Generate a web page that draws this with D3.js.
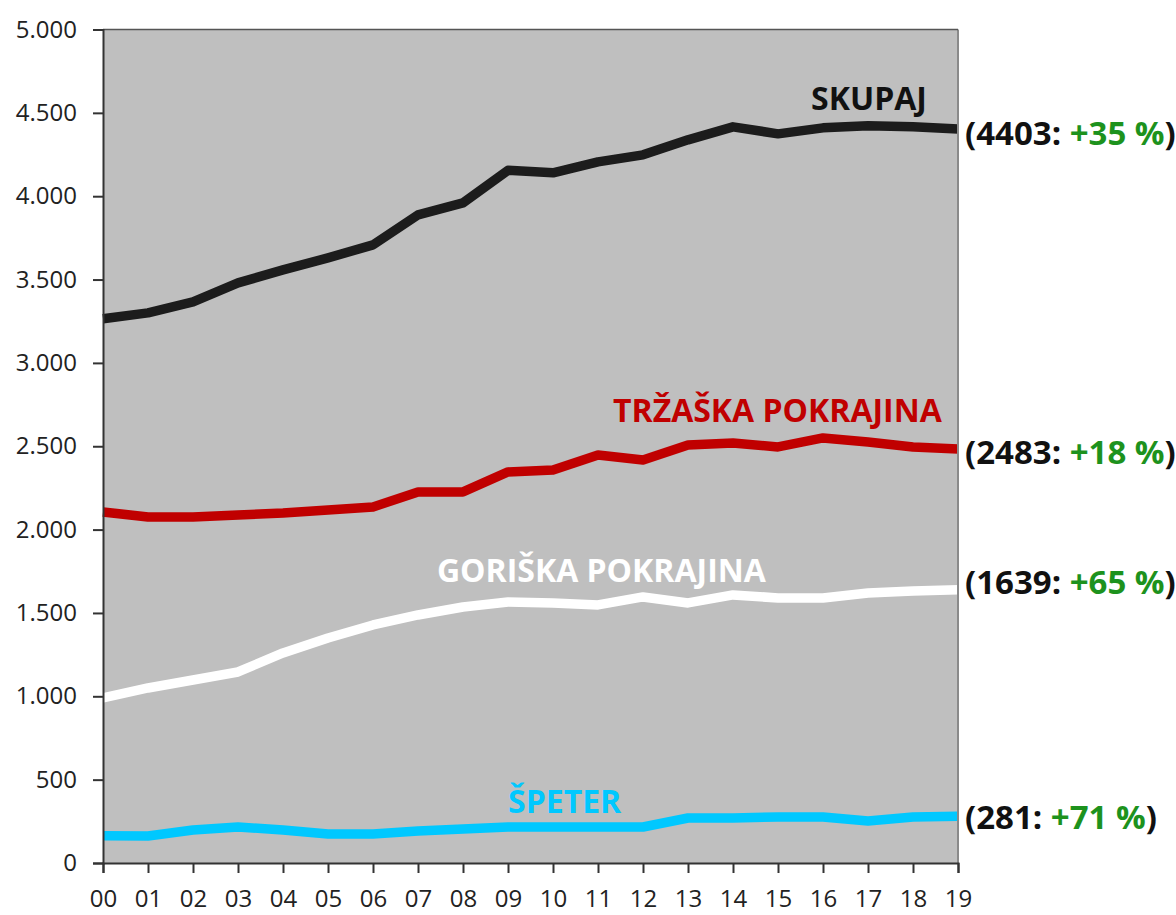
<!DOCTYPE html>
<html>
<head>
<meta charset="utf-8">
<script src="https://cdn.jsdelivr.net/npm/d3@7"></script>
<style>
  body { margin: 0; background: #fff; }
  svg { display: block; font-family: "Open Sans", "DejaVu Sans", sans-serif; }
</style>
</head>
<body>
<svg id="chart" width="1176" height="915"></svg>
<script>
// data
const years = ["00", "01", "02", "03", "04", "05", "06", "07", "08", "09",
               "10", "11", "12", "13", "14", "15", "16", "17", "18", "19"];
const skupaj  = [3265, 3300, 3366, 3480, 3558, 3630, 3708, 3888, 3960, 4155,
                 4140, 4206, 4248, 4338, 4416, 4374, 4410, 4422, 4416, 4403];
const trzaska = [2106, 2076, 2076, 2088, 2100, 2118, 2136, 2226, 2226, 2346,
                 2358, 2448, 2418, 2508, 2520, 2496, 2550, 2526, 2496, 2483];
const goriska = [990, 1050, 1098, 1146, 1260, 1350, 1428, 1488, 1536, 1566,
                 1560, 1548, 1596, 1560, 1608, 1590, 1590, 1620, 1632, 1639];
const speter  = [164, 162, 198, 216, 198, 174, 174, 192, 204, 216,
                 216, 216, 216, 270, 270, 276, 276, 252, 276, 281];
const seriesNames = ["SKUPAJ", "TRŽAŠKA POKRAJINA", "GORIŠKA POKRAJINA", "ŠPETER"];
const changes = ["+35 %", "+18 %", "+65 %", "+71 %"];
const yTicks = [0, 500, 1000, 1500, 2000, 2500, 3000, 3500, 4000, 4500, 5000];

const svg = d3.select("#chart");
const plotL = 103, plotR = 958, plotT = 29.5, plotB = 863;

const x = d3.scaleLinear().domain([0, years.length - 1]).range([plotL, plotR]);
const y = d3.scaleLinear().domain([0, 5000]).range([plotB, plotT]);

const fmt = d3.formatLocale({ decimal: ",", thousands: ".", grouping: [3], currency: ["", ""] }).format(",d");

// plot background
svg.append("rect")
  .attr("x", plotL).attr("y", plotT)
  .attr("width", plotR - plotL).attr("height", plotB - plotT)
  .attr("fill", "#bfbfbf");

// series styles + label placement (index / value space)
const series = [
  { name: seriesNames[0], values: skupaj,  color: "#1c1c1c", text: "#111", lx: 18.31, lv: 4518, anchor: "end", dy: "0.48em" },
  { name: seriesNames[1], values: trzaska, color: "#c00000", text: "#c00000", lx: 18.64, lv: 2646, anchor: "end", dy: "0.46em" },
  { name: seriesNames[2], values: goriska, color: "#ffffff", text: "#ffffff", lx: 7.42, lv: 1686, anchor: "start", dy: "0.14em" },
  { name: seriesNames[3], values: speter,  color: "#00c8ff", text: "#00c8ff", lx: 9.0, lv: 300, anchor: "start", dy: "0.4em" }
];
series.forEach((s, i) => s.change = changes[i]);

const line = d3.line()
  .x((d, i) => x(i))
  .y(d => y(d));

svg.append("g").selectAll("path")
  .data(series)
  .enter().append("path")
  .attr("d", d => line(d.values))
  .attr("fill", "none")
  .attr("stroke", d => d.color)
  .attr("stroke-width", 9.5)
  .attr("stroke-linejoin", "round");

// series names inside the plot
svg.append("g").selectAll("text")
  .data(series)
  .enter().append("text")
  .attr("x", d => x(d.lx))
  .attr("y", d => y(d.lv))
  .attr("text-anchor", d => d.anchor)
  .attr("font-size", 32)
  .attr("font-weight", "bold")
  .attr("fill", d => d.text)
  .text(d => d.name);

// end labels: (value: change)
const endLabel = svg.append("g").selectAll("text")
  .data(series)
  .enter().append("text")
  .attr("x", plotR + 7)
  .attr("y", d => y(d.values[d.values.length - 1]))
  .attr("dy", d => d.dy)
  .attr("font-size", 33)
  .attr("font-weight", "bold")
  .attr("fill", "#111");
endLabel.append("tspan").text(d => "(" + d.values[d.values.length - 1] + ": ");
endLabel.append("tspan").attr("fill", "#1d921d").text(d => d.change);
endLabel.append("tspan").text(")");

// right + top border
svg.append("line")
  .attr("x1", plotR).attr("x2", plotR).attr("y1", plotT).attr("y2", plotB)
  .attr("stroke", "#8a8a8a").attr("stroke-width", 2);
svg.append("line")
  .attr("x1", plotL).attr("x2", plotR).attr("y1", plotT).attr("y2", plotT)
  .attr("stroke", "#555").attr("stroke-width", 1.5);

// y axis
const yAxis = svg.append("g")
  .attr("transform", `translate(${plotL},0)`)
  .call(d3.axisLeft(y).tickValues(yTicks).tickFormat(fmt).tickSize(10).tickPadding(16));
yAxis.select(".domain").attr("stroke", "#333").attr("stroke-width", 2);
yAxis.selectAll(".tick line").attr("stroke", "#333").attr("stroke-width", 2);
yAxis.selectAll(".tick text")
  .attr("font-family", "Open Sans, sans-serif")
  .attr("font-size", 24)
  .attr("fill", "#222");

// x axis
const xAxis = svg.append("g")
  .attr("transform", `translate(0,${plotB})`)
  .call(d3.axisBottom(x).tickValues(d3.range(years.length))
    .tickFormat(i => years[i]).tickSize(10).tickPadding(17));
xAxis.select(".domain").attr("stroke", "#333").attr("stroke-width", 2);
xAxis.selectAll(".tick line").attr("stroke", "#333").attr("stroke-width", 2);
xAxis.selectAll(".tick text")
  .attr("font-family", "Open Sans, sans-serif")
  .attr("font-size", 24)
  .attr("fill", "#222");
</script>
</body>
</html>
